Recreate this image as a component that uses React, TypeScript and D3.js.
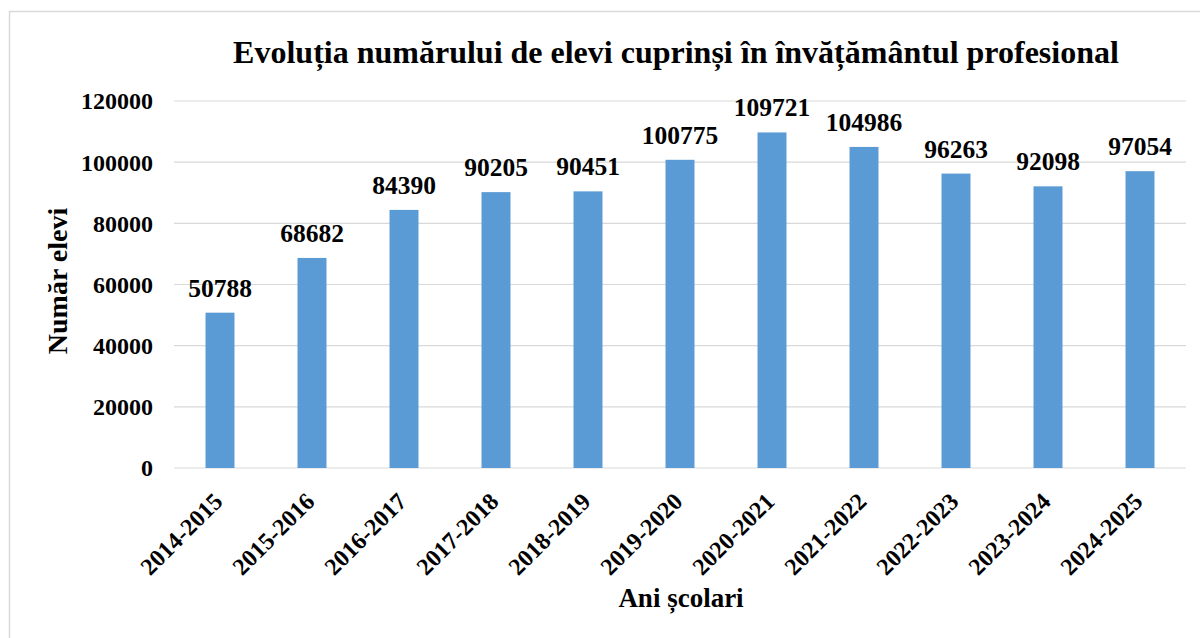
import * as d3 from 'd3';

const width = 1200;
const height = 638;

const margin = { top: 101, bottom: 170, left: 174, right: 14 };

const years = [
  '2014-2015', '2015-2016', '2016-2017', '2017-2018', '2018-2019', '2019-2020',
  '2020-2021', '2021-2022', '2022-2023', '2023-2024', '2024-2025',
];
const students = [50788, 68682, 84390, 90205, 90451, 100775, 109721, 104986, 96263, 92098, 97054];
const yTicks = [0, 20000, 40000, 60000, 80000, 100000, 120000];

const title = 'Evoluția numărului de elevi cuprinși în învățământul profesional';
const yTitle = 'Număr elevi';
const xTitle = 'Ani școlari';

const font = '"Liberation Serif", "Times New Roman", serif';

const App = () => {
  const bottom = height - margin.bottom;

  const xScale = d3
    .scaleBand<string>()
    .domain(years)
    .range([margin.left, width - margin.right])
    .paddingInner(0.685)
    .paddingOuter(0.3425);

  const yScale = d3
    .scaleLinear()
    .domain([0, 120000])
    .range([bottom, margin.top]);

  const bw = xScale.bandwidth();

  return (
    <svg
      width={width}
      height={height}
      viewBox={`0 0 ${width} ${height}`}
      style={{ position: 'absolute', left: 0, top: 0, background: '#fff' }}
      fontFamily={font}
      fontWeight="bold"
    >
      {/* chart frame */}
      <rect x={9.5} y={11.5} width={1200} height={700} fill="#fff" stroke="#d9d9d9" strokeWidth={1.5} />

      <text x={676} y={63} textAnchor="middle" fontSize={32}>{title}</text>

      {/* grid + y ticks */}
      <g className="y-axis">
        {yTicks.map((t) => (
          <g key={t}>
            <line
              x1={margin.left}
              x2={width - margin.right}
              y1={yScale(t)}
              y2={yScale(t)}
              stroke="#d9d9d9"
              strokeWidth={1.2}
            />
            <text x={153} y={yScale(t)} dy="0.35em" textAnchor="end" fontSize={24}>
              {t}
            </text>
          </g>
        ))}
      </g>

      <g className="bars">
        {students.map((v, i) => (
          <rect
            key={years[i]}
            x={xScale(years[i])}
            y={yScale(v)}
            width={bw}
            height={bottom - yScale(v)}
            fill="#5b9bd5"
          />
        ))}
      </g>

      <g className="labels">
        {students.map((v, i) => (
          <text
            key={years[i]}
            x={(xScale(years[i]) ?? 0) + bw / 2}
            y={yScale(v) - 16}
            textAnchor="middle"
            fontSize={25.5}
          >
            {v}
          </text>
        ))}
      </g>

      <g className="x-axis">
        {years.map((y) => {
          const cx = (xScale(y) ?? 0) + bw / 2;
          return (
            <text
              key={y}
              transform={`translate(${cx - 8},${bottom + 23}) rotate(-45)`}
              textAnchor="end"
              dy="0.7em"
              fontSize={24}
            >
              {y}
            </text>
          );
        })}
      </g>

      <text x={681} y={607} textAnchor="middle" fontSize={27}>{xTitle}</text>
      <text
        transform={`translate(67,281) rotate(-90)`}
        textAnchor="middle"
        fontSize={28}
      >
        {yTitle}
      </text>
    </svg>
  );
};

export default App;
